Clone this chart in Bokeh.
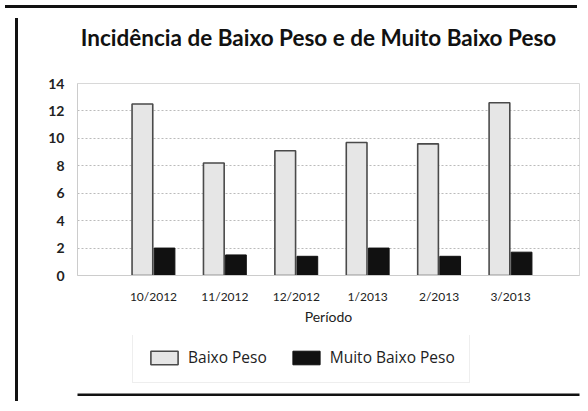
from bokeh.plotting import figure
from bokeh.models import (ColumnDataSource, FixedTicker, Legend, LegendItem,
                          Range1d, Div, Spacer, Label, BoxAnnotation)
from bokeh.layouts import column, row
from bokeh.embed import file_html
from bokeh.resources import INLINE

periods = ["10/2012", "11/2012", "12/2012", "1/2013", "2/2013", "3/2013"]
baixo_peso = [12.5, 8.2, 9.1, 9.7, 9.6, 12.6]
muito_baixo_peso = [2.0, 1.5, 1.4, 2.0, 1.4, 1.7]
y_ticks = [0, 2, 4, 6, 8, 10, 12, 14]
title_text = "Incidência de Baixo Peso e de Muito Baixo Peso"

idx = list(range(len(periods)))
src = ColumnDataSource(dict(
    xb=[i - 0.155 for i in idx], xm=[i + 0.155 for i in idx],
    bp=baixo_peso, mbp=muito_baixo_peso))

LIGHT = dict(fill_color="#e6e6e6", line_color="#4a4a4a", line_width=1.6)
DARK = dict(fill_color="#111111", line_color="#111111", line_width=1)

W, HT, H1, H2 = 559, 42, 280, 61


def bare(height, xr, yr):
    f = figure(width=W, height=height, output_backend="svg",
               toolbar_location=None, title=None, x_range=xr, y_range=yr,
               x_axis_type=None, y_axis_type=None,
               min_border_left=0, min_border_right=0, min_border_top=0,
               min_border_bottom=0)
    f.outline_line_color = None
    f.background_fill_color = "white"
    f.border_fill_color = "white"
    f.xgrid.grid_line_color = None
    f.ygrid.grid_line_color = None
    return f


# title strip
pt = bare(HT, Range1d(0, 1), Range1d(0, 1))
pt.add_layout(Label(x=241, y=18, x_units="screen", y_units="screen",
                    text=title_text, text_font="Lato", text_font_style="bold",
                    text_font_size="22.5px", text_color="#111111",
                    text_align="center", text_baseline="alphabetic"))

# main chart
p = figure(width=W, height=H1, output_backend="svg", toolbar_location=None,
           title=None, x_range=Range1d(-1.064, 5.966), y_range=Range1d(0, 14),
           min_border_left=54, min_border_right=3, min_border_top=28,
           min_border_bottom=60)
p.background_fill_color = "white"
p.border_fill_color = "white"
p.outline_line_color = "#d8d8d8"

p.vbar(x="xb", top="bp", width=0.29, source=src, **LIGHT)
p.vbar(x="xm", top="mbp", width=0.29, source=src, **DARK)

p.xaxis.ticker = FixedTicker(ticks=idx)
p.xaxis.major_label_overrides = {i: s for i, s in zip(idx, periods)}
p.yaxis.ticker = FixedTicker(ticks=y_ticks)
for ax in (p.xaxis, p.yaxis):
    ax.axis_line_color = "#cccccc"
    ax.major_tick_line_color = None
    ax.minor_tick_line_color = None
    ax.major_label_text_color = "#222222"
    ax.major_label_text_font = "Lato"
p.yaxis.major_label_text_font_size = "14px"
p.yaxis.major_label_text_font_style = "bold"
p.yaxis.major_label_standoff = 7
p.xaxis.major_label_text_font_size = "12px"
p.xaxis.major_label_standoff = 7
p.xaxis.axis_label = "Período"
p.xaxis.axis_label_text_font = "Lato"
p.xaxis.axis_label_text_font_size = "14px"
p.xaxis.axis_label_text_font_style = "normal"
p.xaxis.axis_label_text_color = "#222222"
p.xaxis.axis_label_standoff = 1

p.xgrid.grid_line_color = None
p.ygrid.grid_line_color = "#bbbbbb"
p.ygrid.grid_line_dash = "2 2"

# legend strip: same series, drawn small and hidden under the legend box
pl = bare(H2, Range1d(-3, 9), Range1d(-100, 200))
l1 = pl.vbar(x="xb", top="bp", width=0.29, source=src, **LIGHT)
l2 = pl.vbar(x="xm", top="mbp", width=0.29, source=src, **DARK)
legend = Legend(items=[LegendItem(label="Baixo Peso", renderers=[l1]),
                       LegendItem(label="Muito Baixo Peso", renderers=[l2])],
                orientation="horizontal", location=(55, 13),
                glyph_width=34, glyph_height=17, label_standoff=7, spacing=22,
                padding=14, margin=0,
                label_text_font="Open Sans", label_text_font_size="15.5px",
                label_text_color="#222222",
                border_line_color="#dddddd", background_fill_color="white",
                background_fill_alpha=1)
pl.add_layout(legend, "center")
# bottom frame line of the scanned page
pl.add_layout(BoxAnnotation(left=-200, right=1000, bottom=0, top=3,
                            left_units="screen", right_units="screen",
                            top_units="screen", bottom_units="screen",
                            fill_color="#111111", fill_alpha=1,
                            line_color=None))

# scanned page frame lines
HR = HT + H1 + H2
top_line = Div(width=572, height=3, styles={"background-color": "#111111"})
left_line = Div(width=3, height=HR, styles={"background-color": "#111111"})
layout = column(top_line,
                row(Spacer(width=10, height=HR), left_line,
                    column(pt, p, pl, spacing=0), spacing=0),
                spacing=0)

open("out.html", "w").write(file_html(layout, INLINE))
